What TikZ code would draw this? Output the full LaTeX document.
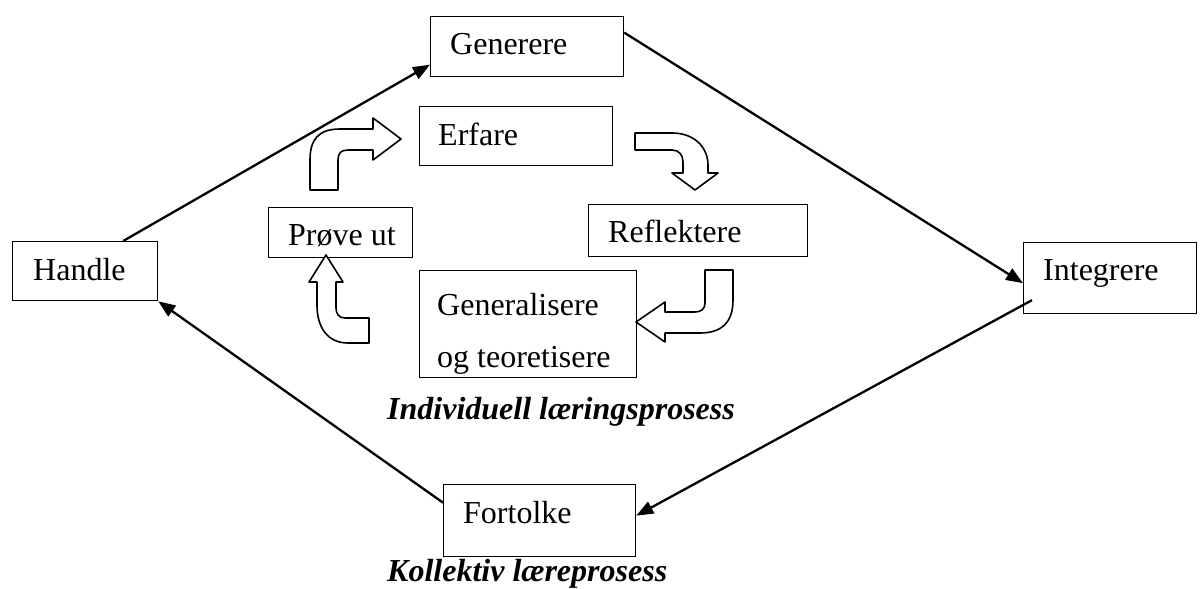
\documentclass[tikz,border=0pt]{standalone}
\usepackage{fontspec}
\setmainfont{Liberation Serif}
\usetikzlibrary{arrows.meta}
\begin{document}
\begin{tikzpicture}[x=1pt,y=-1pt,
  frame/.style={draw, line width=1.3pt, anchor=north west, inner sep=0pt},
  word/.style={anchor=base west, inner sep=0pt, font=\fontsize{32}{38}\selectfont},
  caption/.style={anchor=base west, inner sep=0pt, font=\fontsize{32}{38}\selectfont\bfseries\itshape},
  link/.style={line width=2.3pt, -{Triangle[length=17pt,width=13pt]}},
  blockarrow/.style={draw, fill=white, line width=1.6pt, line join=round}]
\useasboundingbox[fill=white] (0,0) rectangle (1203,589);

% outer boxes (collective cycle)
\node[frame, minimum width=193pt, minimum height=60pt] (gen) at (430,16) {};
\node[word] (gent) at (450,54) {Generere};
\node[frame, minimum width=145pt, minimum height=59pt] (han) at (12,241) {};
\node[word] (hant) at (33,280) {Handle};
\node[frame, minimum width=173pt, minimum height=71pt] (int) at (1023,242) {};
\node[word] (intt) at (1043,280) {Integrere};
\node[frame, minimum width=192pt, minimum height=72pt] (for) at (443,484) {};
\node[word] (fort) at (463,523) {Fortolke};

% inner boxes (individual cycle)
\node[frame, minimum width=193pt, minimum height=59pt] (erf) at (419,106) {};
\node[word] (erft) at (438,145) {Erfare};
\node[frame, minimum width=219pt, minimum height=52pt] (ref) at (588,204) {};
\node[word] (reft) at (608,242) {Reflektere};
\node[frame, minimum width=144pt, minimum height=50pt] (pro) at (268,207) {};
\node[word] (prot) at (288,245) {Prøve ut};
\node[frame, minimum width=217pt, minimum height=107pt] (gtn) at (419,270) {};
\node[word] (gtn1) at (437,315) {Generalisere};
\node[word] (gtn2) at (437,367) {og teoretisere};

% captions
\node[caption] (capi) at (387,419) {Individuell læringsprosess};
\node[caption] (capk) at (387,581) {Kollektiv læreprosess};

% collective cycle connectors
\draw[link] ([xshift=38pt]han.north) -- ([yshift=-18pt]gen.west);
\draw[link] ([yshift=14pt]gen.east) -- ([yshift=-5pt]int.west);
\draw[link] ([xshift=9pt,yshift=-22pt]int.west) -- ([yshift=5pt]for.east);
\draw[link] ([yshift=18pt]for.west) -- (han.south east);

% bent block arrows of the individual cycle
\path[blockarrow] (310,190) -- (310,160) .. controls (310,140) and (318,129) .. (340,129)
  -- (373,129) -- (373,118) -- (401,139) -- (373,160) -- (373,150) -- (348,150)
  .. controls (341,150) and (338,153) .. (338,160) -- (338,190) -- cycle;
\path[blockarrow] (635,133) -- (672,133) .. controls (695,133) and (708,148) .. (708,165)
  -- (708,173) -- (718,173) -- (695,190) -- (672,173) -- (683,173) -- (683,162)
  .. controls (683,155) and (679,150) .. (672,150) -- (635,150) -- cycle;
\path[blockarrow] (705,270) -- (733,270) -- (733,300) .. controls (733,322) and (722,333) .. (700,333)
  -- (665,333) -- (665,342) -- (636,322) -- (665,302) -- (665,312) -- (695,312)
  .. controls (701,312) and (705,309) .. (705,303) -- cycle;
\path[blockarrow] (326,255) -- (343,282) -- (336,282) -- (336,308)
  .. controls (336,314) and (339,318) .. (345,318) -- (369,318) -- (369,343) -- (348,343)
  .. controls (328,343) and (317,328) .. (317,305) -- (317,282) -- (309,282) -- cycle;
\end{tikzpicture}
\end{document}
